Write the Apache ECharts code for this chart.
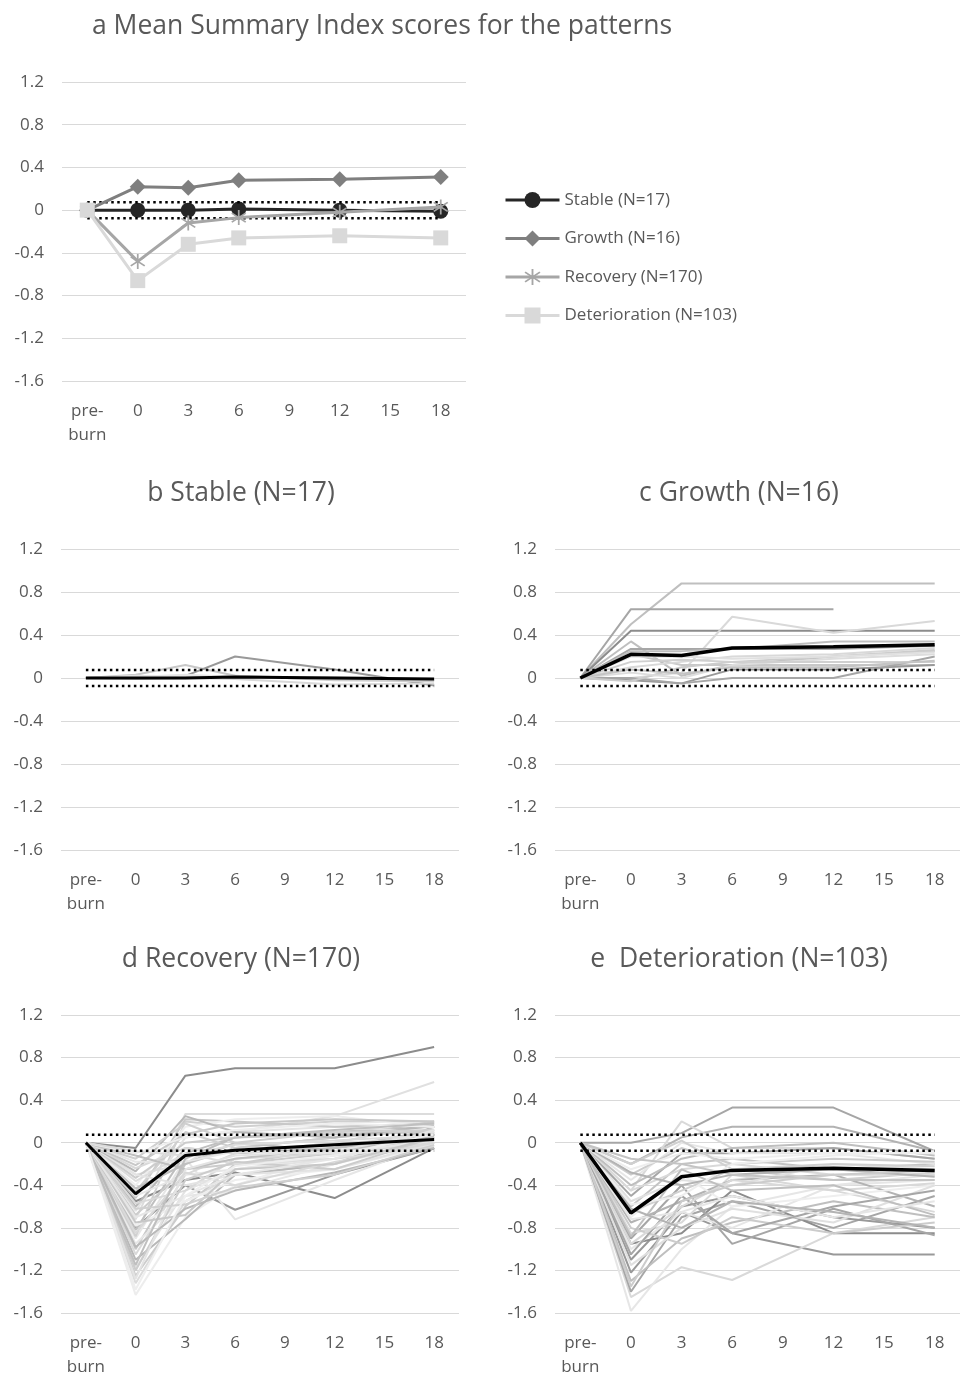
<!DOCTYPE html>
<html>
<head>
<meta charset="utf-8">
<script src="https://cdn.jsdelivr.net/npm/echarts@6/dist/echarts.min.js"></script>
<style>
html,body{margin:0;padding:0;background:#fff;}
#chart{width:962px;height:1379px;}
</style>
</head>
<body>
<div id="chart"></div>
<script>
// ---------- DATA ----------
const categories = ['pre-\nburn', '0', '3', '6', '9', '12', '15', '18'];
const measuredAt = ['pre-\nburn', '0', '3', '6', '12', '18'];
const yTicks = [-1.6, -1.2, -0.8, -0.4, 0, 0.4, 0.8, 1.2];
const thresholdUpper = 0.075;
const thresholdLower = -0.075;

const patternNames = ['Stable (N=17)', 'Growth (N=16)', 'Recovery (N=170)', 'Deterioration (N=103)'];
const meanStable = [0, 0, 0, 0.01, 0, -0.01];
const meanGrowth = [0, 0.22, 0.21, 0.28, 0.29, 0.31];
const meanRecovery = [0, -0.48, -0.12, -0.07, -0.02, 0.03];
const meanDeterioration = [0, -0.66, -0.32, -0.26, -0.24, -0.26];

const stableLines = [
  [0, 0.03, 0.12, 0.02, -0.01, -0.02],
  [0, 0.00, 0.02, 0.20, 0.08, -0.07],
  [0, 0.00, 0.00, -0.01, -0.06, -0.05],
  [0, 0.02, 0.01, 0.00, 0.00, -0.02],
  [0, -0.01, 0.00, 0.02, -0.02, -0.03],
  [0, 0.01, 0.03, 0.01, 0.01, -0.01]
];

const growthLines = [
  [0, 0.50, 0.88, 0.88, 0.88, 0.88],
  [0, 0.64, 0.64, 0.64, 0.64, null],
  [0, 0.44, 0.44, 0.44, 0.44, 0.44],
  [0, 0.00, 0.05, 0.57, 0.42, 0.53],
  [0, 0.34, 0.02, 0.12, 0.20, 0.25],
  [0, 0.27, 0.27, 0.27, 0.27, 0.30],
  [0, 0.25, 0.25, 0.27, 0.34, 0.34],
  [0, 0.22, 0.12, 0.12, 0.12, 0.12],
  [0, -0.02, -0.05, 0.08, 0.08, 0.12],
  [0, 0.00, -0.05, 0.00, 0.00, 0.20],
  [0, 0.10, 0.15, 0.20, 0.22, 0.28],
  [0, -0.03, 0.10, 0.15, 0.20, 0.26],
  [0, 0.05, 0.00, 0.12, 0.18, 0.22],
  [0, 0.20, 0.20, 0.18, 0.20, 0.24],
  [0, 0.15, 0.17, 0.15, 0.15, 0.15],
  [0, 0.08, 0.04, 0.10, 0.10, 0.16]
];

const recoveryLines = [
  [0, -0.05, 0.63, 0.70, 0.70, 0.90],
  [0, -0.30, -0.20, 0.10, 0.25, 0.57],
  [0, -0.55, -0.35, -0.28, -0.52, -0.05],
  [0, -0.80, -0.40, -0.63, -0.30, -0.05],
  [0, -0.90, -0.15, -0.72, -0.35, 0.00],
  [0, -1.43, -0.70, -0.40, -0.10, 0.05],
  [0, -1.32, -0.55, -0.30, -0.20, 0.10],
  [0, -1.25, -0.60, -0.20, -0.05, 0.12],
  [0, -1.18, -0.45, -0.25, -0.15, 0.08],
  [0, -1.10, -0.72, -0.30, -0.20, 0.15],
  [0, -1.05, -0.30, -0.10, 0.00, 0.18],
  [0, -1.00, -0.20, -0.05, 0.05, 0.20],
  [0, -0.95, -0.50, -0.45, -0.20, 0.02],
  [0, -0.88, 0.20, 0.15, 0.20, 0.20],
  [0, -0.82, -0.10, 0.05, 0.10, 0.15],
  [0, -0.78, -0.55, -0.35, -0.25, -0.02],
  [0, -0.72, 0.27, 0.27, 0.27, 0.27],
  [0, -0.68, -0.25, -0.20, -0.10, 0.05],
  [0, -0.64, 0.05, 0.10, 0.15, 0.10],
  [0, -0.60, -0.05, -0.10, -0.05, 0.08],
  [0, -0.57, -0.45, -0.15, -0.10, 0.00],
  [0, -0.52, 0.22, 0.20, 0.15, 0.18],
  [0, -0.50, -0.30, -0.25, -0.12, -0.03],
  [0, -0.46, 0.10, -0.05, 0.05, 0.12],
  [0, -0.43, -0.20, 0.00, -0.08, 0.06],
  [0, -0.40, 0.15, 0.22, 0.25, 0.14],
  [0, -0.36, -0.10, -0.20, -0.15, -0.04],
  [0, -0.33, 0.00, 0.05, 0.08, 0.10],
  [0, -0.30, -0.40, -0.30, -0.25, 0.00],
  [0, -0.27, 0.25, 0.10, 0.05, 0.16],
  [0, -0.24, -0.05, -0.10, 0.00, 0.03],
  [0, -0.21, 0.08, 0.18, 0.22, 0.20],
  [0, -0.18, -0.18, -0.08, -0.10, 0.02],
  [0, -0.15, 0.18, 0.00, 0.10, 0.12],
  [0, -0.12, -0.25, -0.15, -0.05, 0.04],
  [0, -0.10, 0.05, 0.12, 0.18, 0.15],
  [0, -0.08, -0.12, -0.02, 0.02, 0.07],
  [0, -1.20, -0.35, -0.18, -0.25, 0.05],
  [0, -1.28, -0.25, -0.12, -0.08, 0.10],
  [0, -0.98, -0.62, -0.45, -0.28, -0.05],
  [0, -0.85, -0.28, -0.40, -0.18, 0.00],
  [0, -0.75, -0.68, -0.25, -0.20, 0.05],
  [0, -0.70, -0.50, -0.30, -0.15, 0.12],
  [0, -0.62, -0.58, -0.42, -0.30, -0.02],
  [0, -1.15, -0.15, 0.05, 0.12, 0.18],
  [0, -1.38, -0.50, -0.22, -0.12, 0.08]
];

const deteriorationLines = [
  [0, 0.00, 0.09, 0.33, 0.33, -0.08],
  [0, -0.20, 0.05, 0.15, 0.15, -0.08],
  [0, -0.45, 0.20, -0.05, -0.05, -0.15],
  [0, -1.22, -0.65, -0.85, -1.05, -1.05],
  [0, -1.45, -1.17, -1.29, -0.85, -0.70],
  [0, -1.58, -1.00, -0.60, -0.40, -0.30],
  [0, -1.40, -0.70, -0.55, -0.80, -0.50],
  [0, -1.10, -0.60, -0.50, -0.70, -0.80],
  [0, -0.95, -0.85, -0.45, -0.85, -0.85],
  [0, -0.90, -0.40, -0.95, -0.62, -0.87],
  [0, -0.85, -0.75, -0.30, -0.45, -0.65],
  [0, -1.30, -0.90, -0.75, -0.55, -0.70],
  [0, -1.00, -0.65, -0.80, -0.40, -0.35],
  [0, -0.80, -0.95, -0.70, -0.85, -0.75],
  [0, -0.75, -0.55, -0.35, -0.30, -0.60],
  [0, -0.70, -0.30, -0.60, -0.50, -0.40],
  [0, -0.65, -0.45, -0.25, -0.35, -0.28],
  [0, -0.60, -0.20, -0.15, -0.25, -0.20],
  [0, -0.55, -0.35, -0.40, -0.20, -0.25],
  [0, -0.50, -0.10, -0.10, -0.05, -0.15],
  [0, -0.45, -0.25, -0.20, -0.30, -0.30],
  [0, -0.40, -0.15, -0.05, 0.00, -0.12],
  [0, -0.35, 0.00, -0.10, -0.10, -0.20],
  [0, -0.30, -0.05, -0.20, -0.15, -0.18],
  [0, -0.28, -0.40, -0.30, -0.25, -0.32],
  [0, -0.25, -0.10, -0.15, -0.10, -0.10],
  [0, -0.20, 0.02, -0.25, -0.20, -0.22],
  [0, -0.15, -0.20, -0.30, -0.35, -0.35],
  [0, -1.15, -0.80, -0.62, -0.75, -0.40],
  [0, -1.05, -0.50, -0.85, -0.60, -0.45],
  [0, -0.95, -0.60, -0.35, -0.45, -0.38],
  [0, -0.88, -0.25, -0.45, -0.40, -0.68],
  [0, -0.72, -0.65, -0.50, -0.70, -0.55],
  [0, -1.35, -0.55, -0.40, -0.30, -0.26],
  [0, -0.62, -0.80, -0.55, -0.65, -0.80],
  [0, -0.58, -0.50, -0.20, -0.12, -0.08]
];

// ---------- STYLES ----------
const FONT = 'Open Sans';
const TXT = '#595959';
const stableShades = ['#c8c8c8', '#999999', '#d9d9d9', '#e0e0e0', '#cfcfcf', '#e6e6e6'];
const growthShades = ['#bfbfbf', '#a6a6a6', '#8c8c8c', '#d9d9d9', '#bfbfbf', '#a6a6a6', '#bfbfbf', '#c8c8c8',
  '#999999', '#a6a6a6', '#d9d9d9', '#cccccc', '#dddddd', '#e0e0e0', '#d0d0d0', '#c4c4c4'];
const recoveryPalette = ['#d9d9d9', '#c8c8c8', '#e6e6e6', '#d0d0d0', '#bfbfbf', '#eeeeee', '#dcdcdc', '#cccccc', '#e3e3e3', '#b8b8b8'];
const deteriorationPalette = ['#d9d9d9', '#bfbfbf', '#e6e6e6', '#cccccc', '#b3b3b3', '#eeeeee', '#d0d0d0', '#c4c4c4', '#e0e0e0', '#a6a6a6'];
const recoveryLeadShades = ['#8c8c8c', '#e0e0e0', '#8c8c8c', '#999999', '#e6e6e6', '#ededed'];
const deteriorationLeadShades = ['#a6a6a6', '#b3b3b3', '#d9d9d9', '#999999', '#d9d9d9', '#e6e6e6', '#a6a6a6', '#999999', '#8c8c8c'];

const starPath = 'path://M-1,-10L-1,10L1,10L1,-10Z M-8.6,-5.2L7.4,6.8L8.6,5.2L-7.4,-6.8Z M8.6,-5.2L7.4,-6.8L-8.6,5.2L-7.4,6.8Z';

const grids = [
  { left: 62, top: 82, width: 404, height: 299 },
  { left: 61, top: 549, width: 398, height: 301 },
  { left: 555, top: 549, width: 405, height: 301 },
  { left: 61, top: 1015, width: 398, height: 301 },
  { left: 555, top: 1015, width: 405, height: 301 }
];

const titles = [
  { text: 'a Mean Summary Index scores for the patterns', x: 92, y: 26, align: 'left' },
  { text: 'b Stable (N=17)', x: 241, y: 493, align: 'center' },
  { text: 'c Growth (N=16)', x: 739, y: 493, align: 'center' },
  { text: 'd Recovery (N=170)', x: 241, y: 959, align: 'center' },
  { text: 'e  Deterioration (N=103)', x: 739, y: 959, align: 'center' }
];

// ---------- BUILD ----------
function toRow(vals) {
  const row = categories.map(() => null);
  measuredAt.forEach((c, i) => { row[categories.indexOf(c)] = vals[i]; });
  return row;
}
const constRow = v => categories.map(() => v);

const xAxes = grids.map((g, i) => ({
  type: 'category', gridIndex: i, data: categories, boundaryGap: true,
  axisLine: { show: false }, axisTick: { show: false },
  axisLabel: { color: TXT, fontFamily: FONT, fontSize: 17, lineHeight: 24, margin: 18, interval: 0 },
  splitLine: { show: false }
}));
const yAxes = grids.map((g, i) => ({
  type: 'value', gridIndex: i, min: yTicks[0], max: yTicks[yTicks.length - 1], interval: 0.4,
  axisLine: { show: false }, axisTick: { show: false },
  axisLabel: { color: TXT, fontFamily: FONT, fontSize: 17, margin: 18,
    formatter: v => Math.abs(v) < 1e-9 ? '0' : v.toFixed(1) },
  splitLine: { lineStyle: { color: '#d9d9d9', width: 1 } }
}));

const series = [];
function thresholds(idx) {
  [thresholdUpper, thresholdLower].forEach((t, k) => {
    series.push({
      name: 'thr' + idx + '_' + k, type: 'line', xAxisIndex: idx, yAxisIndex: idx,
      data: constRow(t), symbol: 'none', silent: true, z: 4,
      lineStyle: { color: '#000', width: 2.5, type: [2.5, 3.5], cap: 'butt' }
    });
  });
}
function thinLines(idx, lines, shadeFn) {
  lines.forEach((l, j) => {
    series.push({
      name: 'p' + idx + '_' + j, type: 'line', xAxisIndex: idx, yAxisIndex: idx,
      data: toRow(l), connectNulls: true, symbol: 'none', silent: true, z: 2,
      lineStyle: { color: shadeFn(j), width: 2 }
    });
  });
}
function meanLine(idx, vals, w) {
  series.push({
    name: 'mean' + idx, type: 'line', xAxisIndex: idx, yAxisIndex: idx,
    data: toRow(vals), connectNulls: true, symbol: 'none', silent: true, z: 5,
    lineStyle: { color: '#000', width: w }
  });
}

// panel a
thresholds(0);
const aStyles = [
  { color: '#262626', symbol: 'circle', size: 15 },
  { color: '#7f7f7f', symbol: 'diamond', size: 16 },
  { color: '#a6a6a6', symbol: starPath, size: 15 },
  { color: '#d9d9d9', symbol: 'rect', size: 15 }
];
[meanStable, meanGrowth, meanRecovery, meanDeterioration].forEach((vals, k) => {
  series.push({
    name: patternNames[k], type: 'line', xAxisIndex: 0, yAxisIndex: 0,
    data: toRow(vals), connectNulls: true, z: 3 + k,
    symbol: aStyles[k].symbol, symbolSize: aStyles[k].size, showAllSymbol: true,
    itemStyle: { color: aStyles[k].color },
    lineStyle: { color: aStyles[k].color, width: 3 }
  });
});

// panel b
thinLines(1, stableLines, j => stableShades[j % stableShades.length]);
thresholds(1);
meanLine(1, meanStable, 3);
// panel c
thinLines(2, growthLines, j => growthShades[j % growthShades.length]);
thresholds(2);
meanLine(2, meanGrowth, 3.5);
// panel d
thinLines(3, recoveryLines, j => j < recoveryLeadShades.length ? recoveryLeadShades[j] : recoveryPalette[j % recoveryPalette.length]);
thresholds(3);
meanLine(3, meanRecovery, 3);
// panel e
thinLines(4, deteriorationLines, j => j < deteriorationLeadShades.length ? deteriorationLeadShades[j] : deteriorationPalette[j % deteriorationPalette.length]);
thresholds(4);
meanLine(4, meanDeterioration, 3.5);

const option = {
  animation: false,
  backgroundColor: '#fff',
  grid: grids.map(g => Object.assign({ containLabel: false }, g)),
  xAxis: xAxes,
  yAxis: yAxes,
  legend: {
    data: patternNames, orient: 'vertical', left: 504, top: 190, padding: 0,
    itemWidth: 54, itemHeight: 20, itemGap: 18.5,
    lineStyle: { width: 3 },
    textStyle: { color: TXT, fontFamily: FONT, fontSize: 17, lineHeight: 20 },
    selectedMode: false
  },
  graphic: titles.map(t => ({
    type: 'text', x: t.x, y: t.y, silent: true,
    style: { text: t.text, fill: TXT, font: '26.5px "' + FONT + '"', align: t.align, verticalAlign: 'middle' }
  })),
  series: series
};

const chart = echarts.init(document.getElementById('chart'), null, { renderer: 'canvas' });
chart.setOption(option);
</script>
</body>
</html>
